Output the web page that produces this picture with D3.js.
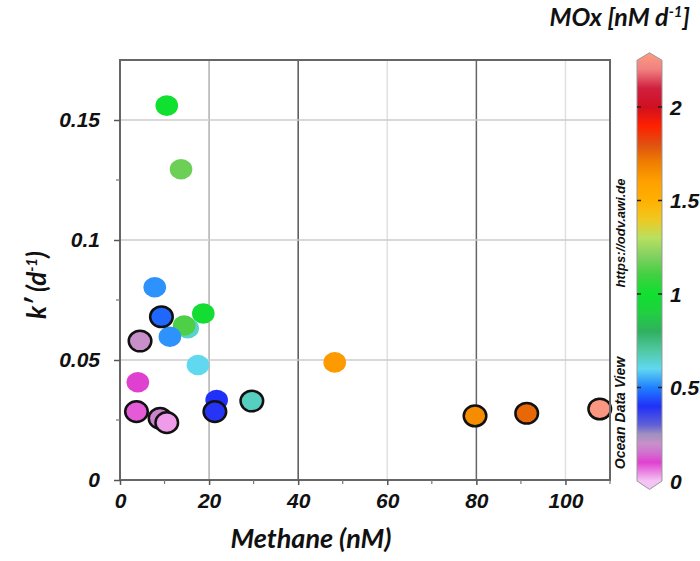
<!DOCTYPE html>
<html>
<head>
<meta charset="utf-8">
<script src="https://cdn.jsdelivr.net/npm/d3@7"></script>
<style>
  body { margin: 0; background: #fff; }
  .tick text { font-family: "Liberation Sans", Arial, sans-serif; font-weight: bold; font-style: italic; }
</style>
</head>
<body>
<div id="main"></div>
<script>
// data
var methane = [10.5, 13.7, 7.8, 18.7, 15.2, 14.4, 11.2, 17.5, 48.2, 4.0, 21.7,
               9.3, 4.5, 21.3, 29.6, 3.7, 9.0, 10.5, 79.7, 91.3, 107.7];
var kprime  = [0.156, 0.1295, 0.0803, 0.0694, 0.0632, 0.0644, 0.0597, 0.0479, 0.049, 0.0407, 0.0333,
               0.068, 0.0579, 0.0285, 0.0329, 0.0285, 0.0257, 0.0239, 0.0267, 0.0278, 0.0296];
var mox     = [1.0, 1.17, 0.52, 0.98, 0.64, 1.12, 0.52, 0.6, 1.62, 0.1, 0.4,
               0.47, 0.2, 0.39, 0.66, 0.08, 0.18, 0.03, 1.66, 1.75, 2.27];
var outlined = [0, 0, 0, 0, 0, 0, 0, 0, 0, 0, 0,
                1, 1, 1, 1, 1, 1, 1, 1, 1, 1];

var xTicks = [0, 20, 40, 60, 80, 100];
var yTicks = [0, 0.05, 0.1, 0.15];
var cbTicks = [0, 0.5, 1, 1.5, 2];

// ODV-like palette
var cStops  = [0, 0.1, 0.15, 0.2, 0.25, 0.3, 0.4, 0.5, 0.6, 0.7, 0.8, 0.9, 1.0, 1.1, 1.2, 1.3, 1.4, 1.5, 1.6, 1.7, 1.8, 1.9, 2.0, 2.1, 2.2, 2.3];
var cColors = ["#f4c4f4", "#e040d0", "#d070d0", "#c890c8", "#a090c0", "#6060d8", "#2030f8", "#2080ff", "#60d8f0", "#50c8a0", "#30b060",
               "#20d040", "#10e030", "#40d040", "#80d060", "#b8e060", "#f0c820", "#ffb000", "#ffa000", "#f08000", "#e05010",
               "#ff2000", "#d01020", "#d02040", "#f08080", "#ffa080"];

var W = 700, H = 561;
var plot = {left: 120, right: 610, top: 60, bottom: 480};

var svg = d3.select("#main").append("svg")
    .attr("width", W)
    .attr("height", H);

var xScale = d3.scaleLinear().domain([0, 110]).range([plot.left, plot.right]);
var yScale = d3.scaleLinear().domain([0, 0.175]).range([plot.bottom, plot.top]);
var color = d3.scaleLinear().domain(cStops).range(cColors);

// grid
var gridColor = {20: "#b0b0b0", 40: "#555", 60: "#e0e0e0", 80: "#666", 100: "#e0e0e0"};
svg.append("g").selectAll("line.vg")
   .data(xTicks.filter(function(d){ return d > 0; }))
   .enter().append("line")
   .attr("x1", function(d){ return xScale(d); })
   .attr("x2", function(d){ return xScale(d); })
   .attr("y1", plot.top).attr("y2", plot.bottom)
   .style("stroke", function(d){ return gridColor[d]; })
   .style("stroke-width", 1.5);

svg.append("g").selectAll("line.hg")
   .data(yTicks.filter(function(d){ return d > 0; }))
   .enter().append("line")
   .attr("x1", plot.left).attr("x2", plot.right)
   .attr("y1", function(d){ return yScale(d); })
   .attr("y2", function(d){ return yScale(d); })
   .style("stroke", "#ccc")
   .style("stroke-width", 1.5);

// points: plain ones first, outlined on top
var idx = d3.range(methane.length);
svg.append("g").selectAll("ellipse")
   .data(idx)
   .enter().append("ellipse")
   .attr("cx", function(i){ return xScale(methane[i]); })
   .attr("cy", function(i){ return yScale(kprime[i]); })
   .attr("rx", 11.3)
   .attr("ry", 10.3)
   .style("fill", function(i){ return color(mox[i]); })
   .style("stroke", function(i){ return outlined[i] ? "#111" : "none"; })
   .style("stroke-width", 2.5);

// frame
svg.append("rect")
   .attr("x", plot.left).attr("y", plot.top)
   .attr("width", plot.right - plot.left).attr("height", plot.bottom - plot.top)
   .style("fill", "none")
   .style("stroke", "#666")
   .style("stroke-width", 2);

// axes
var xAxis = d3.axisBottom(xScale).tickValues(xTicks).tickSize(5).tickPadding(8);
var gx = svg.append("g")
    .attr("transform", "translate(0," + plot.bottom + ")")
    .call(xAxis);
gx.select(".domain").remove();
gx.selectAll("line").style("stroke", "#555").style("stroke-width", 1.5);
gx.selectAll("text").style("font-size", "21px").style("fill", "#111");
gx.selectAll(".minor").data([10, 30, 50, 70, 90, 110]).enter().append("line")
  .attr("class", "minor")
  .attr("x1", function(d){ return xScale(d); }).attr("x2", function(d){ return xScale(d); })
  .attr("y1", 0).attr("y2", 4)
  .style("stroke", "#777").style("stroke-width", 1.2);

var yAxis = d3.axisLeft(yScale).tickValues(yTicks).tickSize(6).tickPadding(14)
    .tickFormat(function(d){ return d === 0 ? "0" : String(d); });
var gy = svg.append("g")
    .attr("transform", "translate(" + plot.left + ",0)")
    .call(yAxis);
gy.select(".domain").remove();
gy.selectAll("line").style("stroke", "#555").style("stroke-width", 1.5);
gy.selectAll("text").style("font-size", "21px").style("fill", "#111");
gy.selectAll(".minor").data([0.025, 0.075, 0.125]).enter().append("line")
  .attr("class", "minor")
  .attr("x1", 0).attr("x2", -4)
  .attr("y1", function(d){ return yScale(d); }).attr("y2", function(d){ return yScale(d); })
  .style("stroke", "#777").style("stroke-width", 1.2);

// axis titles
svg.append("text")
   .attr("x", 311).attr("y", 548)
   .style("text-anchor", "middle")
   .style("font-family", "Lato, 'Open Sans', sans-serif")
   .style("font-weight", "bold").style("font-style", "italic")
   .style("font-size", "27px").style("fill", "#111")
   .text("Methane (nM)");

var yt = svg.append("text")
   .attr("transform", "translate(46,285) rotate(-90)")
   .style("text-anchor", "middle")
   .style("font-family", "Lato, 'Open Sans', sans-serif")
   .style("font-weight", "bold").style("font-style", "italic")
   .style("font-size", "26px").style("fill", "#111");
yt.append("tspan").text("k\u2032 (d");
yt.append("tspan").attr("dy", -9).style("font-size", "15px").text("-1");
yt.append("tspan").attr("dy", 9).text(")");

var tt = svg.append("text")
   .attr("x", 690).attr("y", 26)
   .style("text-anchor", "end")
   .style("font-family", "Lato, 'Open Sans', sans-serif")
   .style("font-weight", "bold").style("font-style", "italic")
   .style("font-size", "25px").style("fill", "#111");
tt.append("tspan").text("MOx [nM d");
tt.append("tspan").attr("dy", -9).style("font-size", "15px").text("-1");
tt.append("tspan").attr("dy", 9).text("]");

// colour bar
var cb = {x: 637, w: 25};
var cbScale = d3.scaleLinear().domain([0, 2]).range([481, 107]);
var cbTop = cbScale(2.25), cbBot = cbScale(0), tipTop = cbScale(2.29), tipBot = cbScale(-0.045);

var grad = svg.append("defs").append("linearGradient")
    .attr("id", "cbgrad")
    .attr("gradientUnits", "userSpaceOnUse")
    .attr("x1", 0).attr("x2", 0)
    .attr("y1", cbScale(0)).attr("y2", cbScale(2.3));
grad.selectAll("stop").data(cStops).enter().append("stop")
    .attr("offset", function(d){ return d / 2.3; })
    .attr("stop-color", function(d){ return color(d); });

var cbPath = d3.path();
cbPath.moveTo(cb.x, cbTop);
cbPath.lineTo(cb.x + cb.w / 2, tipTop);
cbPath.lineTo(cb.x + cb.w, cbTop);
cbPath.lineTo(cb.x + cb.w, cbBot);
cbPath.lineTo(cb.x + cb.w / 2, tipBot);
cbPath.lineTo(cb.x, cbBot);
cbPath.closePath();
svg.append("path")
   .attr("d", cbPath.toString())
   .style("fill", "url(#cbgrad)")
   .style("stroke", "#999")
   .style("stroke-width", 1);

var cbt = svg.append("g").selectAll("g").data(cbTicks).enter().append("g");
cbt.filter(function(d){ return d > 0; }).append("line")
   .attr("x1", cb.x).attr("x2", cb.x + 4)
   .attr("y1", function(d){ return cbScale(d); }).attr("y2", function(d){ return cbScale(d); })
   .style("stroke", "#222").style("stroke-width", 1.5);
cbt.filter(function(d){ return d > 0; }).append("line")
   .attr("x1", cb.x + cb.w - 4).attr("x2", cb.x + cb.w)
   .attr("y1", function(d){ return cbScale(d); }).attr("y2", function(d){ return cbScale(d); })
   .style("stroke", "#222").style("stroke-width", 1.5);
cbt.append("text")
   .attr("x", 670)
   .attr("y", function(d){ return cbScale(d); })
   .attr("dy", "0.36em")
   .style("font-family", "'Liberation Sans', Arial, sans-serif")
   .style("font-weight", "bold").style("font-style", "italic")
   .style("font-size", "21px").style("fill", "#111")
   .text(function(d){ return d; });

// ODV credits
svg.append("text")
   .attr("transform", "translate(625,233) rotate(-90)")
   .style("text-anchor", "middle")
   .style("font-family", "'Liberation Sans', Arial, sans-serif")
   .style("font-weight", "bold").style("font-style", "italic")
   .style("font-size", "13px").style("fill", "#111")
   .text("https://odv.awi.de");
svg.append("text")
   .attr("transform", "translate(625,413) rotate(-90)")
   .style("text-anchor", "middle")
   .style("font-family", "'Liberation Sans', Arial, sans-serif")
   .style("font-weight", "bold").style("font-style", "italic")
   .style("font-size", "14px").style("fill", "#111")
   .text("Ocean Data View");
</script>
</body>
</html>
